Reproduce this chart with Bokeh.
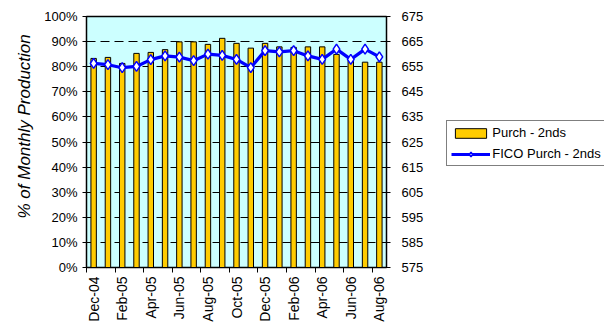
import math
from bokeh.plotting import figure
from bokeh.models import (Range1d, LinearAxis, FixedTicker, NumeralTickFormatter,
                          ColumnDataSource, Legend, LegendItem, Title, Grid)
from bokeh.embed import file_html
from bokeh.resources import INLINE

months = ["Dec-04", "Jan-05", "Feb-05", "Mar-05", "Apr-05", "May-05", "Jun-05",
          "Jul-05", "Aug-05", "Sep-05", "Oct-05", "Nov-05", "Dec-05", "Jan-06",
          "Feb-06", "Mar-06", "Apr-06", "May-06", "Jun-06", "Jul-06", "Aug-06"]
purch_2nds = [0.833, 0.837, 0.813, 0.853, 0.857, 0.868, 0.899, 0.899, 0.889, 0.913,
              0.893, 0.874, 0.893, 0.879, 0.877, 0.879, 0.879, 0.849, 0.825, 0.818, 0.818]
fico_purch_2nds = [656.3, 655.8, 654.6, 655.1, 657.8, 659.3, 658.8, 657.4, 660.0, 659.5,
                   657.9, 654.6, 661.4, 660.9, 661.4, 659.3, 657.9, 662.0, 657.9, 662.0, 658.9]
pct_ticks = [i / 10 for i in range(11)]
fico_ticks = list(range(575, 676, 10))

FONT = "Liberation Sans"
idx = list(range(len(months)))
src = ColumnDataSource(dict(x=idx, purch=purch_2nds, fico=fico_purch_2nds, month=months))

p = figure(frame_width=300, frame_height=251, output_backend="svg", toolbar_location=None,
           x_range=Range1d(-0.5, len(months) - 0.5), y_range=Range1d(0, 1),
           min_border_left=86, min_border_right=218, min_border_top=16, min_border_bottom=57,
           x_axis_type=None, y_axis_type=None)
p.background_fill_color = "#CCFFFF"
p.border_fill_color = "white"
p.outline_line_color = "black"
p.outline_line_width = 1.5

p.extra_y_ranges = {"fico": Range1d(575, 675)}

# grid
p.add_layout(Grid(dimension=1, ticker=FixedTicker(ticks=pct_ticks), grid_line_color="black",
                  grid_line_dash="9 5", grid_line_width=1))

# x axis
xt = FixedTicker(ticks=idx[::2], minor_ticks=[i - 0.5 for i in idx[::2]])
xaxis = LinearAxis(ticker=xt)
xaxis.major_label_overrides = {i: months[i] for i in idx[::2]}
xaxis.major_label_orientation = math.pi / 2
xaxis.major_tick_line_color = None
xaxis.major_tick_out = 4
xaxis.major_label_standoff = 4
xaxis.minor_tick_line_color = "black"
xaxis.minor_tick_out = 5
xaxis.minor_tick_in = 0
xaxis.axis_line_color = "black"
xaxis.major_label_text_font = FONT
xaxis.major_label_text_font_size = "14px"
xaxis.major_label_text_color = "black"
p.add_layout(xaxis, "below")

# left axis
yl = LinearAxis(ticker=FixedTicker(ticks=pct_ticks), formatter=NumeralTickFormatter(format="0%"))
yl.major_tick_out = 4
yl.major_tick_in = 3
yl.major_label_standoff = 5
yl.minor_tick_line_color = None
yl.axis_line_color = "black"
yl.major_label_text_font = FONT
yl.major_label_text_font_size = "13px"
yl.major_label_text_color = "black"
p.add_layout(yl, "left")

# y label (as a left title, offset toward the top)
ylabel = Title(text="% of Monthly Production", align="left", offset=49, standoff=15,
               text_font=FONT, text_font_style="italic", text_font_size="17px",
               text_color="black")
p.add_layout(ylabel, "left")

# right axis
yr = LinearAxis(y_range_name="fico", ticker=FixedTicker(ticks=fico_ticks))
yr.major_tick_out = 4
yr.major_tick_in = 3
yr.major_label_standoff = 11
yr.minor_tick_line_color = None
yr.axis_line_color = "black"
yr.major_label_text_font = FONT
yr.major_label_text_font_size = "13px"
yr.major_label_text_color = "black"
p.add_layout(yr, "right")

bars = p.vbar(x="x", top="purch", width=0.38, source=src, fill_color="#FFCC00",
              line_color="black", line_width=1)
ln = p.line(x="x", y="fico", source=src, y_range_name="fico", line_color="#0000FF", line_width=3.2)
mk = p.scatter(x="x", y="fico", source=src, y_range_name="fico", marker="diamond", size=10,
               fill_color="white", line_color="#0000FF", line_width=1.5)

legend = Legend(items=[LegendItem(label="Purch - 2nds", renderers=[bars]),
                       LegendItem(label="FICO Purch - 2nds", renderers=[ln, mk])],
                location=(-210, 101))
legend.border_line_color = "black"
legend.border_line_width = 1
legend.background_fill_color = "white"
legend.background_fill_alpha = 1
legend.padding = 4
legend.spacing = 6
legend.margin = 0
legend.glyph_width = 39
legend.glyph_height = 12
legend.label_height = 15
legend.label_standoff = 2
legend.label_text_font = FONT
legend.label_text_font_size = "13px"
legend.label_text_color = "black"
p.add_layout(legend, "right")

open("out.html", "w").write(file_html(p, INLINE))
